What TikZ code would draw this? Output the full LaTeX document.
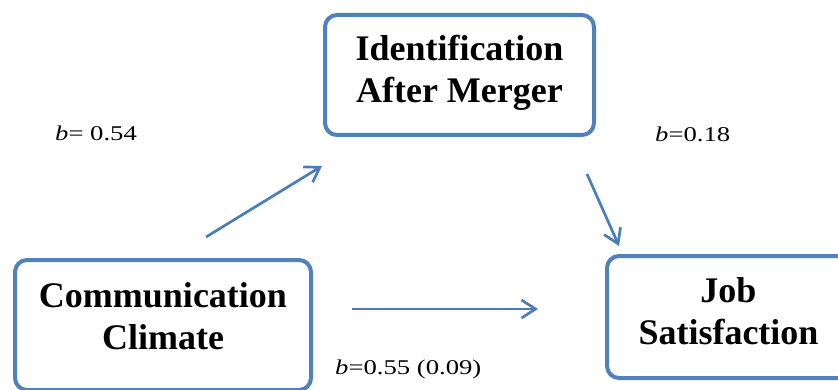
\documentclass[tikz,border=0pt]{standalone}
\usepackage{fontspec}
\setmainfont{Liberation Serif}
\newfontfamily\labelfont{Liberation Serif}[FakeStretch=1.27]
\usetikzlibrary{positioning}
\usetikzlibrary{arrows.meta}
\definecolor{boxblue}{RGB}{79,129,189}
\definecolor{edgeblue}{RGB}{74,126,187}
\tikzset{
    mybox/.style = {rectangle, rounded corners=12pt, line width=4pt, draw=boxblue, fill=white, align=center, inner sep=0pt, font=\fontsize{36}{42}\selectfont\bfseries},
    mylabel/.style = {anchor=base west, inner sep=0pt, font=\labelfont\fontsize{21}{24}\selectfont},
    edgeb/.style = {-{Straight Barb[length=14pt,width=18pt]}, line width=2.7pt, edgeblue}, % path
}

\begin{document}
\begin{tikzpicture}[x=1pt,y=-1pt]
\useasboundingbox (0,0) rectangle (838,390);
\clip (0,0) rectangle (838,390);
%
\node[mybox, minimum width=269pt, minimum height=120pt] at (459.5,75) (ident) {Identification\\After Merger\rule[-12.6pt]{0pt}{0pt}};
\node[mybox, minimum width=296pt, minimum height=130pt] at (163,325) (comm) {Communication\\Climate\rule[-18.4pt]{0pt}{0pt}};
\node[mybox, minimum width=243pt, minimum height=122pt] at (728.5,317) (job) {Job\\Satisfaction\rule[-12.6pt]{0pt}{0pt}};
%
\node[mylabel] at (55,141) (bA) {\textit{b}= 0.54};
\node[mylabel] at (655,141.5) (bB) {\textit{b}=0.18};
\node[mylabel] at (335,374) (bC) {\textit{b}=0.55 (0.09)};
%
\coordinate (ac) at (206,237);
\coordinate (ai) at (322,166);
\coordinate (ij) at (587,174);
\coordinate (ja) at (619,246);
\coordinate (cj) at (352,309);
\coordinate (jc) at (538,309);
%
\draw[edgeb] (ac) -- (ai);
\draw[edgeb] (ij) -- (ja);
\draw[edgeb] (cj) -- (jc);
\end{tikzpicture}
\end{document}
